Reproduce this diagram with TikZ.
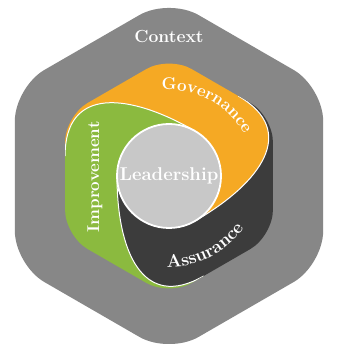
\documentclass[tikz,border=0pt]{standalone}
\usetikzlibrary{decorations.text}
\definecolor{ctxgray}{RGB}{135,135,135}
\definecolor{govorange}{RGB}{245,169,36}
\definecolor{impgreen}{RGB}{139,186,63}
\definecolor{assdark}{RGB}{60,60,60}
\definecolor{leadgray}{RGB}{200,200,200}
% one swirl seam, turned by #1 degrees
\newcommand\swirl[1]{({169.11+#1}:105.83) .. controls ({139.1+#1}:137.5) and ({115.6+#1}:92.05) .. ({60+#1}:52)}
% the governance band, the other two are turned copies
\newcommand\govband{(60:52) .. controls (115.6:92.05) and (139.1:137.5) .. (169.11:105.83) -- (169.11:400) -- (110:400) -- (49.11:400) -- (49.11:105.83) .. controls (19.1:137.5) and (-4.4:92.05) .. (-60:52) arc[start angle=-60, end angle=60, radius=52] -- cycle}
\newcommand\innerhex{(0:103.92) -- (30:120) -- (90:120) -- (150:120) -- (210:120) -- (270:120) -- (330:120) -- cycle}
\newcommand\lblfont[1]{\fontsize{#1}{20}\selectfont\bfseries\color{white}}

\begin{document}
\begin{tikzpicture}[x=1pt,y=1pt,
  seam/.style={white,line width=1pt},
  label/.style={text=white,font=\fontsize{#1}{20}\selectfont\bfseries,inner sep=0pt},
  bandtext/.style 2 args={decorate,decoration={text along path,text align=center,text={|\lblfont{#2}|#1}}}]
\useasboundingbox[fill=white] (-169,-168) rectangle (170,176);
\fill[ctxgray,rounded corners=34pt] (0:154.15) -- (30:178) -- (90:178) -- (150:178) -- (210:178) -- (270:178) -- (330:178) -- cycle;
\node[label=17.5] (nContext) at (0,139) {Context};

\begin{scope}
  \clip[rounded corners=26pt] \innerhex;
  \foreach \ang/\col in {0/govorange,120/impgreen,240/assdark}
    \fill[\col,rotate=\ang] \govband;
  \foreach \ang in {0,120,240}
    \draw[seam] \swirl{\ang};
\end{scope}

\node[circle,fill=leadgray,draw=white,line width=1.8pt,minimum size=104pt,label=18.5] (nLead) at (0,0) {Leadership};
\node[label=17,rotate=90] (nImp) at (-74,-1) {Improvement};
\path[bandtext={Governance}{17}] (97:86) arc[start angle=97,end angle=27,radius=86];
\path[bandtext={Assurance}{18}] (262:91) arc[start angle=262,end angle=332,radius=91];
\end{tikzpicture}
\end{document}
